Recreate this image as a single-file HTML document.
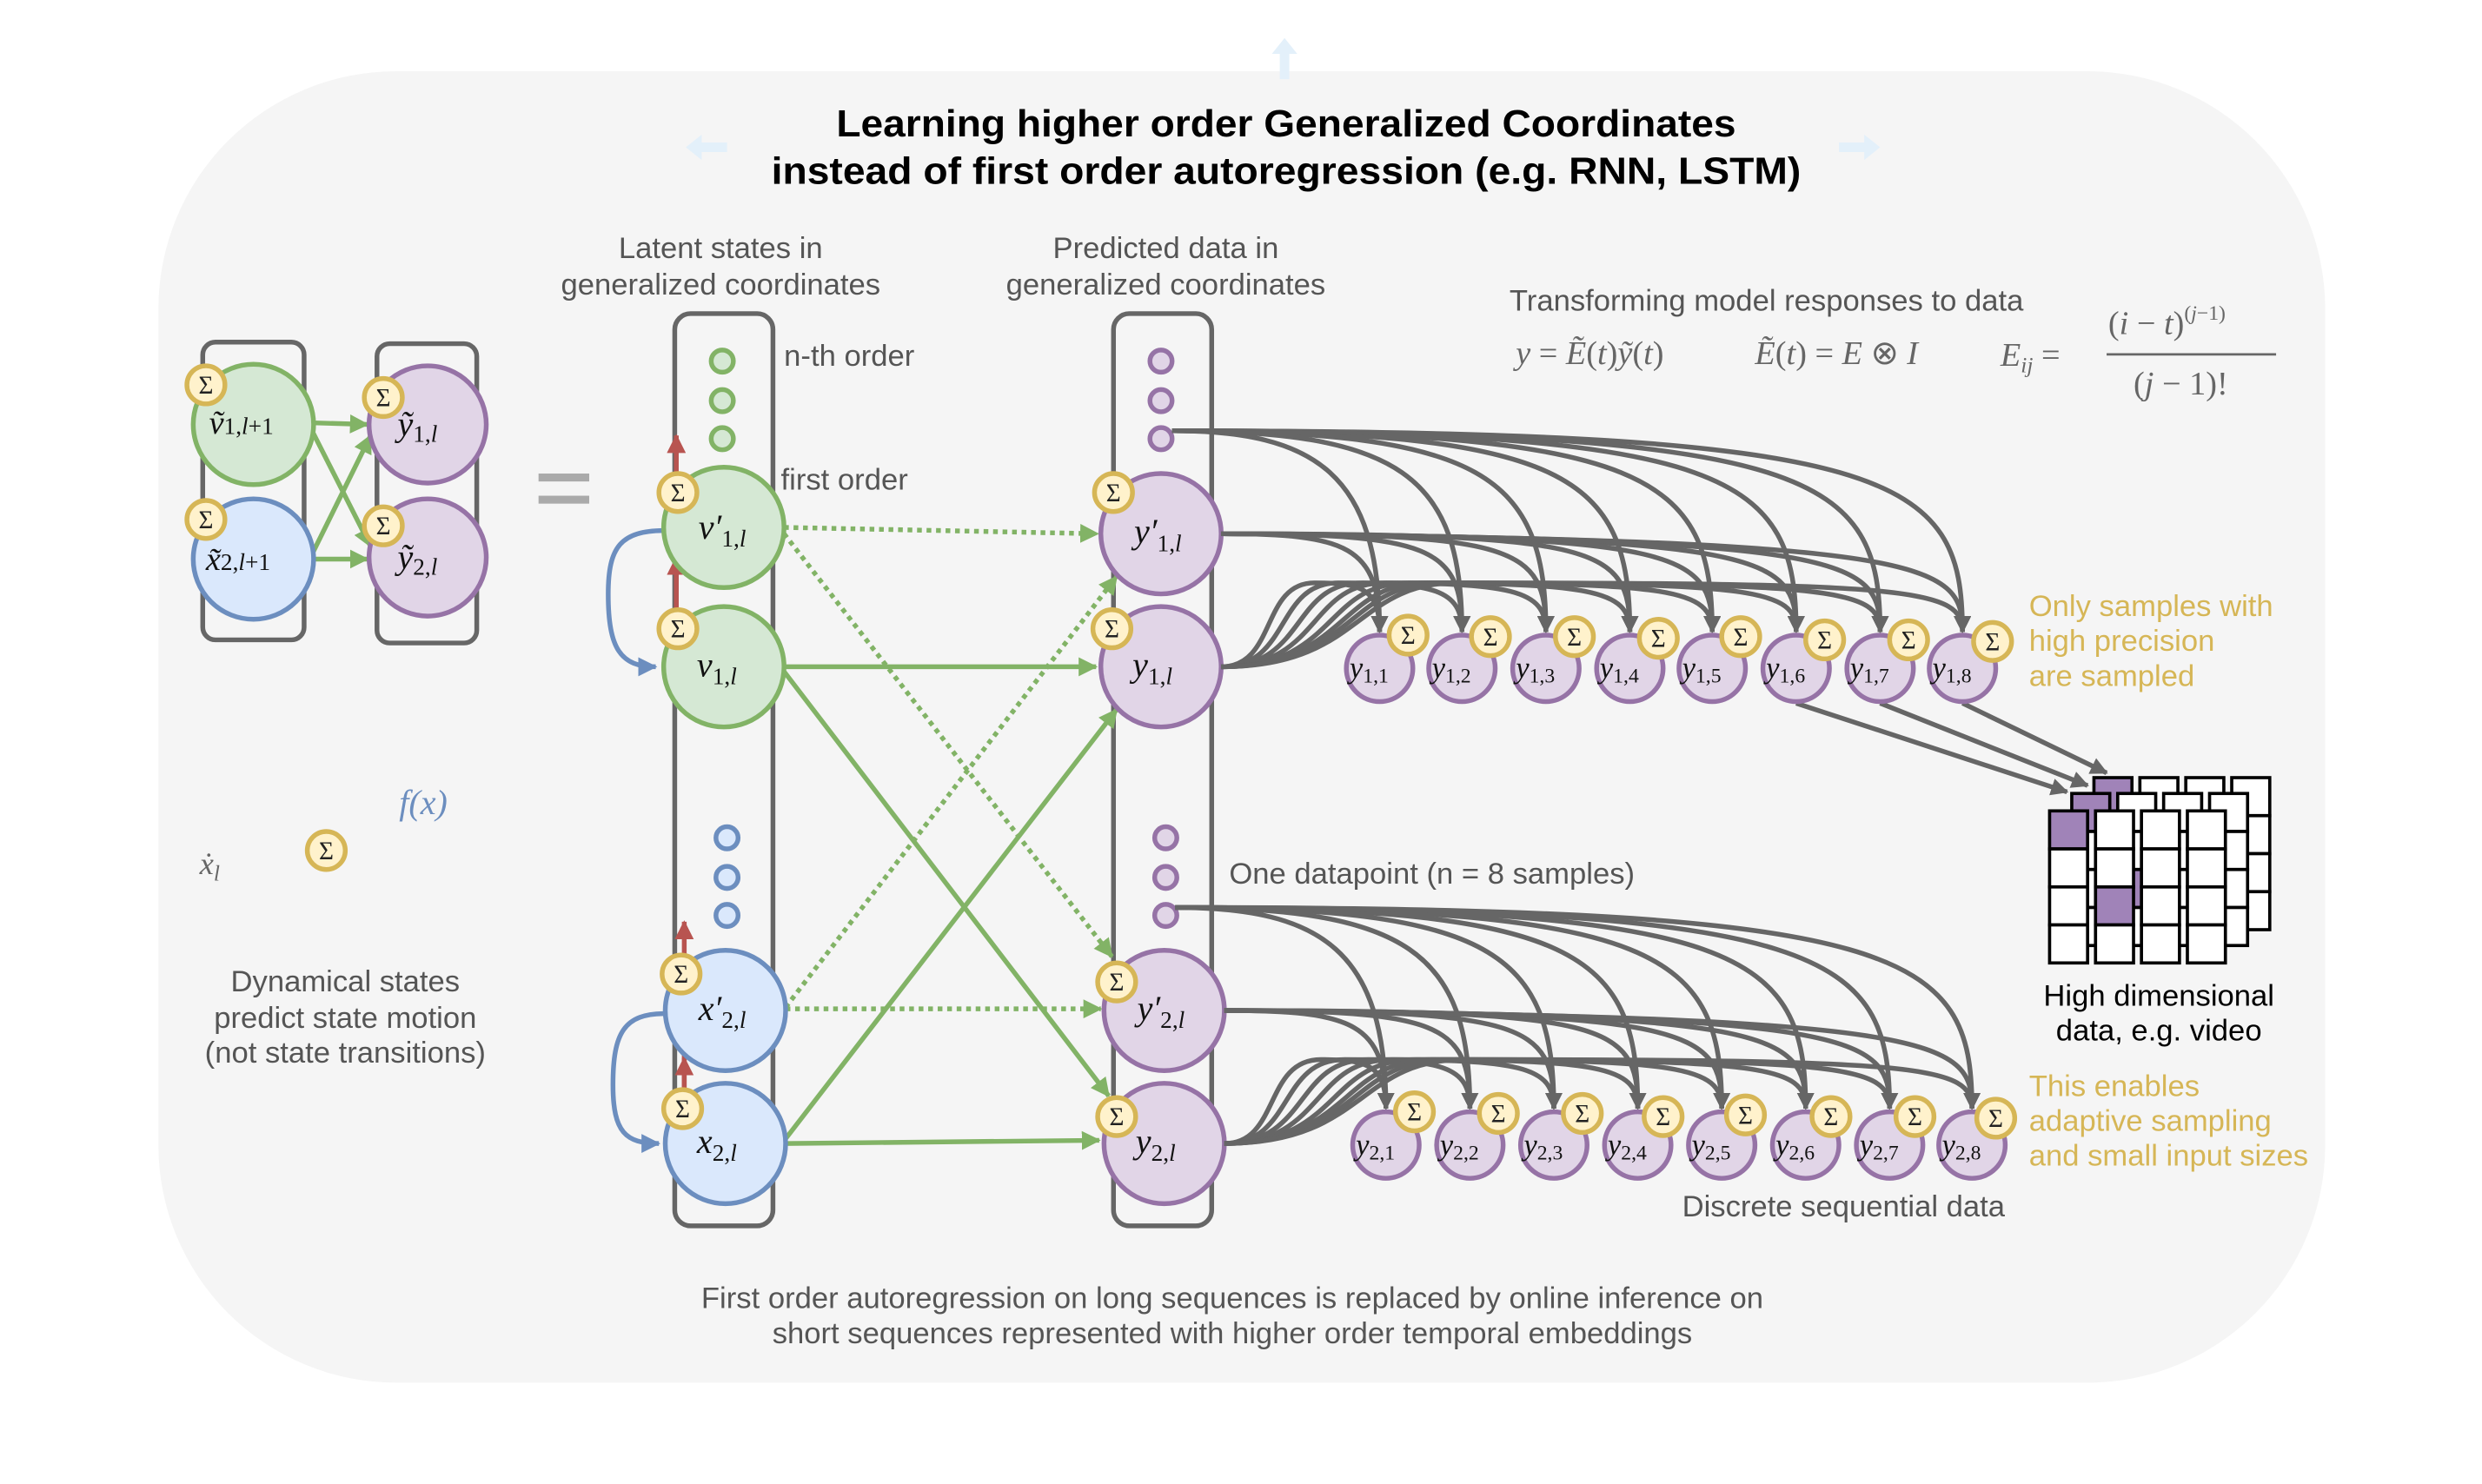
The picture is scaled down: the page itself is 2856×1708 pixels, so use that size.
<!DOCTYPE html>
<html><head><meta charset="utf-8"><style>
html,body{margin:0;padding:0;background:#fff;}
svg{display:block;}
text{font-family:"Liberation Sans",sans-serif;}
.l{font-size:19px;fill:#555;}
.m{font-family:"Liberation Serif",serif;font-style:italic;fill:#111;}
.y{font-size:19px;fill:#d6b656;}
.sg{font-family:"Liberation Serif",serif;font-size:16px;fill:#222;text-anchor:middle;}
.g{fill:none;stroke:#666;stroke-width:3;}
</style></head><body>
<svg width="2856" height="1708" viewBox="0 0 1567 937" preserveAspectRatio="none" xmlns="http://www.w3.org/2000/svg">
<defs>
<marker id="ag" markerWidth="11" markerHeight="11" refX="10" refY="5.5" orient="auto" markerUnits="userSpaceOnUse"><path d="M0,0 L11,5.5 L0,11 z" fill="#666"/></marker>
<marker id="agr" markerWidth="12" markerHeight="12" refX="11" refY="6" orient="auto" markerUnits="userSpaceOnUse"><path d="M0,0 L12,6 L0,12 z" fill="#82b366"/></marker>
<marker id="ab" markerWidth="12" markerHeight="12" refX="11" refY="6" orient="auto" markerUnits="userSpaceOnUse"><path d="M0,0 L12,6 L0,12 z" fill="#6c8ebf"/></marker>
<marker id="ar" markerWidth="12" markerHeight="12" refX="11" refY="6" orient="auto" markerUnits="userSpaceOnUse"><path d="M0,0 L12,6 L0,12 z" fill="#b85450"/></marker>
<g id="sig"><circle r="12" fill="#fff2cc" stroke="#d6b656" stroke-width="3"/><text class="sg" y="5.5">Σ</text></g>
</defs>
<rect x="100" y="45" width="1368" height="828" rx="150" fill="#f5f5f5"/>
<g fill="#e3f0fa"><path d="M808,50 h6 v-16 h5 l-8,-10 l-8,10 h5 z"/><path d="M459,90 v6 h-16 v5 l-10,-8 l10,-8 v5 z"/><path d="M1161,90 v6 h16 v5 l10,-8 l-10,-8 v5 z"/></g>
<text x="812" y="86" text-anchor="middle" font-size="24" font-weight="bold" textLength="568" lengthAdjust="spacingAndGlyphs">Learning higher order Generalized Coordinates</text>
<text x="812" y="116" text-anchor="middle" font-size="24" font-weight="bold" textLength="650" lengthAdjust="spacingAndGlyphs">instead of first order autoregression (e.g. RNN, LSTM)</text>

<rect x="128" y="216" width="64" height="188" rx="8" fill="none" stroke="#666" stroke-width="3"/>
<rect x="238" y="217" width="63" height="189" rx="8" fill="none" stroke="#666" stroke-width="3"/>
<g stroke="#82b366" stroke-width="3" fill="none">
<line x1="198" y1="267" x2="232" y2="268" marker-end="url(#agr)"/>
<line x1="196" y1="270" x2="234" y2="345" marker-end="url(#agr)"/>
<line x1="196" y1="352" x2="234" y2="275" marker-end="url(#agr)"/>
<line x1="198" y1="353" x2="232" y2="353" marker-end="url(#agr)"/>
</g>
<circle cx="160" cy="268" r="38" fill="#d5e8d4" stroke="#82b366" stroke-width="3"/>
<circle cx="160" cy="353" r="38" fill="#dae8fc" stroke="#6c8ebf" stroke-width="3"/>
<circle cx="270" cy="268" r="37" fill="#e1d5e7" stroke="#9673a6" stroke-width="3"/>
<circle cx="270" cy="352" r="37" fill="#e1d5e7" stroke="#9673a6" stroke-width="3"/>
<text class="m" x="132" y="274" font-size="21">ṽ<tspan font-size="15" font-style="normal">1,</tspan><tspan font-size="15">l</tspan><tspan font-size="15" font-style="normal">+1</tspan></text>
<text class="m" x="130" y="360" font-size="21">x̃<tspan font-size="15" font-style="normal">2,</tspan><tspan font-size="15">l</tspan><tspan font-size="15" font-style="normal">+1</tspan></text>
<text class="m" x="251" y="275" font-size="22">ỹ<tspan font-size="15" font-style="normal" dy="4">1,</tspan><tspan font-size="15">l</tspan></text>
<text class="m" x="251" y="359" font-size="22">ỹ<tspan font-size="15" font-style="normal" dy="4">2,</tspan><tspan font-size="15">l</tspan></text>
<use href="#sig" x="130" y="243"/><use href="#sig" x="130" y="328"/><use href="#sig" x="242" y="251"/><use href="#sig" x="242" y="332"/>
<rect x="340" y="299" width="32" height="5" fill="#aaa"/><rect x="340" y="313" width="32" height="5" fill="#aaa"/>
<text class="m" x="252" y="514" font-size="22" style="fill:#6c8ebf">f(x)</text>
<text class="m" x="126" y="552" font-size="20" style="fill:#666">ẋ<tspan font-size="14" dy="4">l</tspan></text>
<use href="#sig" x="206" y="537"/>
<text class="l" x="218" y="626" text-anchor="middle">Dynamical states</text>
<text class="l" x="218" y="649" text-anchor="middle">predict state motion</text>
<text class="l" x="218" y="671" text-anchor="middle">(not state transitions)</text>

<text class="l" x="455" y="163" text-anchor="middle">Latent states in</text>
<text class="l" x="455" y="186" text-anchor="middle">generalized coordinates</text>
<text class="l" x="736" y="163" text-anchor="middle">Predicted data in</text>
<text class="l" x="736" y="186" text-anchor="middle">generalized coordinates</text>

<rect x="426" y="198" width="62" height="576" rx="10" fill="none" stroke="#666" stroke-width="3"/>
<rect x="703" y="198" width="62" height="576" rx="10" fill="none" stroke="#666" stroke-width="3"/>
<text class="l" x="495" y="231">n-th order</text>
<text class="l" x="493" y="309">first order</text>
<g stroke-width="3">
<circle cx="456" cy="228" r="7" fill="#d5e8d4" stroke="#82b366"/><circle cx="456" cy="253" r="7" fill="#d5e8d4" stroke="#82b366"/><circle cx="456" cy="277" r="7" fill="#d5e8d4" stroke="#82b366"/>
<circle cx="459" cy="529" r="7" fill="#dae8fc" stroke="#6c8ebf"/><circle cx="459" cy="554" r="7" fill="#dae8fc" stroke="#6c8ebf"/><circle cx="459" cy="578" r="7" fill="#dae8fc" stroke="#6c8ebf"/>
<circle cx="733" cy="228" r="7" fill="#e1d5e7" stroke="#9673a6"/><circle cx="733" cy="253" r="7" fill="#e1d5e7" stroke="#9673a6"/><circle cx="733" cy="277" r="7" fill="#e1d5e7" stroke="#9673a6"/>
<circle cx="736" cy="529" r="7" fill="#e1d5e7" stroke="#9673a6"/><circle cx="736" cy="554" r="7" fill="#e1d5e7" stroke="#9673a6"/><circle cx="736" cy="578" r="7" fill="#e1d5e7" stroke="#9673a6"/>
</g>
<g stroke="#b85450" stroke-width="3" fill="none">
<line x1="427" y1="390" x2="427" y2="275" marker-end="url(#ar)"/>
<line x1="427" y1="390" x2="427" y2="352" marker-end="url(#ar)"/>
<line x1="432" y1="692" x2="432" y2="582" marker-end="url(#ar)"/>
<line x1="432" y1="692" x2="432" y2="668" marker-end="url(#ar)"/>
</g>
<g stroke="#6c8ebf" stroke-width="3" fill="none">
<path d="M420,335 C392,335 384,345 384,375 C384,410 392,421 414,421" marker-end="url(#ab)"/>
<path d="M420,640 C394,640 387,652 387,685 C387,715 395,722 416,722" marker-end="url(#ab)"/>
</g>
<g stroke="#82b366" stroke-width="3" fill="none">
<line x1="495" y1="333" x2="693" y2="337" stroke-dasharray="3 3" marker-end="url(#agr)"/>
<line x1="495" y1="421" x2="692" y2="421" marker-end="url(#agr)"/>
<line x1="495" y1="337" x2="702" y2="604" stroke-dasharray="3 3" marker-end="url(#agr)"/>
<line x1="495" y1="424" x2="700" y2="692" marker-end="url(#agr)"/>
<line x1="496" y1="636" x2="705" y2="364" stroke-dasharray="3 3" marker-end="url(#agr)"/>
<line x1="496" y1="719" x2="705" y2="448" marker-end="url(#agr)"/>
<line x1="496" y1="637" x2="695" y2="637" stroke-dasharray="3 3" marker-end="url(#agr)"/>
<line x1="496" y1="722" x2="694" y2="720" marker-end="url(#agr)"/>
</g>
<g stroke-width="3">
<circle cx="457" cy="333" r="38" fill="#d5e8d4" stroke="#82b366"/>
<circle cx="457" cy="421" r="38" fill="#d5e8d4" stroke="#82b366"/>
<circle cx="458" cy="638" r="38" fill="#dae8fc" stroke="#6c8ebf"/>
<circle cx="458" cy="722" r="38" fill="#dae8fc" stroke="#6c8ebf"/>
<circle cx="733" cy="337" r="38" fill="#e1d5e7" stroke="#9673a6"/>
<circle cx="733" cy="421" r="38" fill="#e1d5e7" stroke="#9673a6"/>
<circle cx="735" cy="638" r="38" fill="#e1d5e7" stroke="#9673a6"/>
<circle cx="735" cy="722" r="38" fill="#e1d5e7" stroke="#9673a6"/>
</g>
<g>
<text class="m" font-size="22" x="441" y="340">v′<tspan font-size="15" font-style="normal" dy="5">1,</tspan><tspan font-size="15">l</tspan></text>
<text class="m" font-size="22" x="440" y="427">v<tspan font-size="15" font-style="normal" dy="5">1,</tspan><tspan font-size="15">l</tspan></text>
<text class="m" font-size="22" x="441" y="644">x′<tspan font-size="15" font-style="normal" dy="5">2,</tspan><tspan font-size="15">l</tspan></text>
<text class="m" font-size="22" x="440" y="728">x<tspan font-size="15" font-style="normal" dy="5">2,</tspan><tspan font-size="15">l</tspan></text>
<text class="m" font-size="22" x="716" y="343">y′<tspan font-size="15" font-style="normal" dy="5">1,</tspan><tspan font-size="15">l</tspan></text>
<text class="m" font-size="22" x="715" y="427">y<tspan font-size="15" font-style="normal" dy="5">1,</tspan><tspan font-size="15">l</tspan></text>
<text class="m" font-size="22" x="718" y="644">y′<tspan font-size="15" font-style="normal" dy="5">2,</tspan><tspan font-size="15">l</tspan></text>
<text class="m" font-size="22" x="717" y="728">y<tspan font-size="15" font-style="normal" dy="5">2,</tspan><tspan font-size="15">l</tspan></text>
</g>
<use href="#sig" x="428" y="311"/><use href="#sig" x="428" y="397"/><use href="#sig" x="430" y="615"/><use href="#sig" x="431" y="700"/>
<use href="#sig" x="703" y="311"/><use href="#sig" x="702" y="397"/><use href="#sig" x="705" y="620"/><use href="#sig" x="705" y="705"/>

<g class="g">
<path d="M740,272 C831,272 871,300 871,399" marker-end="url(#ag)"/>
<path d="M740,272 C883,272 923,300 923,399" marker-end="url(#ag)"/>
<path d="M740,272 C936,272 976,300 976,399" marker-end="url(#ag)"/>
<path d="M740,272 C989,272 1029,300 1029,399" marker-end="url(#ag)"/>
<path d="M740,272 C1041,272 1081,300 1081,399" marker-end="url(#ag)"/>
<path d="M740,272 C1094,272 1134,300 1134,399" marker-end="url(#ag)"/>
<path d="M740,272 C1147,272 1187,300 1187,399" marker-end="url(#ag)"/>
<path d="M740,272 C1199,272 1239,300 1239,399" marker-end="url(#ag)"/>
<path d="M771,337 C851,337 871,345 871,399" marker-end="url(#ag)"/>
<path d="M771,337 C903,337 923,345 923,399" marker-end="url(#ag)"/>
<path d="M771,337 C956,337 976,345 976,399" marker-end="url(#ag)"/>
<path d="M771,337 C1009,337 1029,345 1029,399" marker-end="url(#ag)"/>
<path d="M771,337 C1061,338 1081,348 1081,399" marker-end="url(#ag)"/>
<path d="M771,337 C1114,339 1134,350 1134,399" marker-end="url(#ag)"/>
<path d="M771,337 C1167,340 1187,352 1187,399" marker-end="url(#ag)"/>
<path d="M771,337 C1219,341 1239,355 1239,399" marker-end="url(#ag)"/>
<path d="M771,421 C806,421 796,368 830,368 C860,368 871,372 871,399" marker-end="url(#ag)"/>
<path d="M771,421 C815,421 805,368 845,368 C905,368 923,372 923,399" marker-end="url(#ag)"/>
<path d="M771,421 C825,421 815,368 860,368 C955,368 976,372 976,399" marker-end="url(#ag)"/>
<path d="M771,421 C835,421 825,368 875,368 C1005,368 1029,372 1029,399" marker-end="url(#ag)"/>
<path d="M771,421 C845,421 835,368 890,368 C1055,368 1081,372 1081,399" marker-end="url(#ag)"/>
<path d="M771,421 C850,421 845,368 900,368 C1110,368 1134,372 1134,399" marker-end="url(#ag)"/>
<path d="M771,421 C855,421 850,368 910,368 C1160,368 1187,372 1187,399" marker-end="url(#ag)"/>
<path d="M771,421 C860,421 855,368 920,368 C1210,368 1239,372 1239,399" marker-end="url(#ag)"/>
<path d="M742,573 C835,573 875,601 875,700" marker-end="url(#ag)"/>
<path d="M742,573 C888,573 928,601 928,700" marker-end="url(#ag)"/>
<path d="M742,573 C941,573 981,601 981,700" marker-end="url(#ag)"/>
<path d="M742,573 C994,573 1034,601 1034,700" marker-end="url(#ag)"/>
<path d="M742,573 C1047,573 1087,601 1087,700" marker-end="url(#ag)"/>
<path d="M742,573 C1100,573 1140,601 1140,700" marker-end="url(#ag)"/>
<path d="M742,573 C1153,573 1193,601 1193,700" marker-end="url(#ag)"/>
<path d="M742,573 C1205,573 1245,601 1245,700" marker-end="url(#ag)"/>
<path d="M773,638 C855,638 875,646 875,700" marker-end="url(#ag)"/>
<path d="M773,638 C908,638 928,646 928,700" marker-end="url(#ag)"/>
<path d="M773,638 C961,638 981,646 981,700" marker-end="url(#ag)"/>
<path d="M773,638 C1014,638 1034,646 1034,700" marker-end="url(#ag)"/>
<path d="M773,638 C1067,639 1087,649 1087,700" marker-end="url(#ag)"/>
<path d="M773,638 C1120,640 1140,651 1140,700" marker-end="url(#ag)"/>
<path d="M773,638 C1173,641 1193,653 1193,700" marker-end="url(#ag)"/>
<path d="M773,638 C1225,642 1245,656 1245,700" marker-end="url(#ag)"/>
<path d="M773,722 C808,722 798,669 834,669 C864,669 875,673 875,700" marker-end="url(#ag)"/>
<path d="M773,722 C817,722 807,669 849,669 C910,669 928,673 928,700" marker-end="url(#ag)"/>
<path d="M773,722 C827,722 817,669 864,669 C960,669 981,673 981,700" marker-end="url(#ag)"/>
<path d="M773,722 C837,722 827,669 879,669 C1010,669 1034,673 1034,700" marker-end="url(#ag)"/>
<path d="M773,722 C847,722 837,669 894,669 C1060,669 1087,673 1087,700" marker-end="url(#ag)"/>
<path d="M773,722 C852,722 847,669 904,669 C1115,669 1140,673 1140,700" marker-end="url(#ag)"/>
<path d="M773,722 C857,722 852,669 914,669 C1165,669 1193,673 1193,700" marker-end="url(#ag)"/>
<path d="M773,722 C862,722 857,669 924,669 C1215,669 1245,673 1245,700" marker-end="url(#ag)"/>
<line x1="1134" y1="444" x2="1305" y2="500" marker-end="url(#ag)"/>
<line x1="1187" y1="444" x2="1318" y2="496" marker-end="url(#ag)"/>
<line x1="1239" y1="444" x2="1330" y2="488" marker-end="url(#ag)"/>
</g>
<g fill="#e1d5e7" stroke="#9673a6" stroke-width="3">
<circle cx="871" cy="422" r="21"/><circle cx="923" cy="422" r="21"/><circle cx="976" cy="422" r="21"/><circle cx="1029" cy="422" r="21"/><circle cx="1081" cy="422" r="21"/><circle cx="1134" cy="422" r="21"/><circle cx="1187" cy="422" r="21"/><circle cx="1239" cy="422" r="21"/>
<circle cx="875" cy="723" r="21"/><circle cx="928" cy="723" r="21"/><circle cx="981" cy="723" r="21"/><circle cx="1034" cy="723" r="21"/><circle cx="1087" cy="723" r="21"/><circle cx="1140" cy="723" r="21"/><circle cx="1193" cy="723" r="21"/><circle cx="1245" cy="723" r="21"/>
</g>
<g>
<text class="m" font-size="19" x="852" y="428">y<tspan font-size="13" font-style="normal" dy="3">1,1</tspan></text>
<text class="m" font-size="19" x="904" y="428">y<tspan font-size="13" font-style="normal" dy="3">1,2</tspan></text>
<text class="m" font-size="19" x="957" y="428">y<tspan font-size="13" font-style="normal" dy="3">1,3</tspan></text>
<text class="m" font-size="19" x="1010" y="428">y<tspan font-size="13" font-style="normal" dy="3">1,4</tspan></text>
<text class="m" font-size="19" x="1062" y="428">y<tspan font-size="13" font-style="normal" dy="3">1,5</tspan></text>
<text class="m" font-size="19" x="1115" y="428">y<tspan font-size="13" font-style="normal" dy="3">1,6</tspan></text>
<text class="m" font-size="19" x="1168" y="428">y<tspan font-size="13" font-style="normal" dy="3">1,7</tspan></text>
<text class="m" font-size="19" x="1220" y="428">y<tspan font-size="13" font-style="normal" dy="3">1,8</tspan></text>
<text class="m" font-size="19" x="856" y="729">y<tspan font-size="13" font-style="normal" dy="3">2,1</tspan></text>
<text class="m" font-size="19" x="909" y="729">y<tspan font-size="13" font-style="normal" dy="3">2,2</tspan></text>
<text class="m" font-size="19" x="962" y="729">y<tspan font-size="13" font-style="normal" dy="3">2,3</tspan></text>
<text class="m" font-size="19" x="1015" y="729">y<tspan font-size="13" font-style="normal" dy="3">2,4</tspan></text>
<text class="m" font-size="19" x="1068" y="729">y<tspan font-size="13" font-style="normal" dy="3">2,5</tspan></text>
<text class="m" font-size="19" x="1121" y="729">y<tspan font-size="13" font-style="normal" dy="3">2,6</tspan></text>
<text class="m" font-size="19" x="1174" y="729">y<tspan font-size="13" font-style="normal" dy="3">2,7</tspan></text>
<text class="m" font-size="19" x="1226" y="729">y<tspan font-size="13" font-style="normal" dy="3">2,8</tspan></text>
</g>
<use href="#sig" x="889" y="401"/><use href="#sig" x="941" y="402"/><use href="#sig" x="994" y="402"/><use href="#sig" x="1047" y="403"/><use href="#sig" x="1099" y="402"/><use href="#sig" x="1152" y="404"/><use href="#sig" x="1205" y="404"/><use href="#sig" x="1258" y="405"/>
<use href="#sig" x="893" y="702"/><use href="#sig" x="946" y="703"/><use href="#sig" x="999" y="703"/><use href="#sig" x="1050" y="705"/><use href="#sig" x="1102" y="704"/><use href="#sig" x="1156" y="705"/><use href="#sig" x="1209" y="705"/><use href="#sig" x="1260" y="706"/>

<g stroke="#000" stroke-width="2" fill="#fff">
<g transform="translate(1322,491)">
<rect x="0" y="0" width="24" height="24" fill="#a083b8"/><rect x="29" y="0" width="24" height="24"/><rect x="58" y="0" width="24" height="24"/><rect x="87" y="0" width="24" height="24"/>
<rect x="0" y="24" width="24" height="24"/><rect x="29" y="24" width="24" height="24"/><rect x="58" y="24" width="24" height="24"/><rect x="87" y="24" width="24" height="24"/>
<rect x="0" y="48" width="24" height="24"/><rect x="29" y="48" width="24" height="24"/><rect x="58" y="48" width="24" height="24"/><rect x="87" y="48" width="24" height="24"/>
<rect x="0" y="72" width="24" height="24"/><rect x="29" y="72" width="24" height="24"/><rect x="58" y="72" width="24" height="24"/><rect x="87" y="72" width="24" height="24"/>
</g>
<g transform="translate(1308,501)">
<rect x="0" y="0" width="24" height="24" fill="#a083b8"/><rect x="29" y="0" width="24" height="24"/><rect x="58" y="0" width="24" height="24"/><rect x="87" y="0" width="24" height="24"/>
<rect x="0" y="24" width="24" height="24"/><rect x="29" y="24" width="24" height="24"/><rect x="58" y="24" width="24" height="24"/><rect x="87" y="24" width="24" height="24"/>
<rect x="0" y="48" width="24" height="24"/><rect x="29" y="48" width="24" height="24" fill="#a083b8"/><rect x="58" y="48" width="24" height="24"/><rect x="87" y="48" width="24" height="24"/>
<rect x="0" y="72" width="24" height="24"/><rect x="29" y="72" width="24" height="24"/><rect x="58" y="72" width="24" height="24"/><rect x="87" y="72" width="24" height="24"/>
</g>
<g transform="translate(1294,512)">
<rect x="0" y="0" width="24" height="24" fill="#a083b8"/><rect x="29" y="0" width="24" height="24"/><rect x="58" y="0" width="24" height="24"/><rect x="87" y="0" width="24" height="24"/>
<rect x="0" y="24" width="24" height="24"/><rect x="29" y="24" width="24" height="24"/><rect x="58" y="24" width="24" height="24"/><rect x="87" y="24" width="24" height="24"/>
<rect x="0" y="48" width="24" height="24"/><rect x="29" y="48" width="24" height="24" fill="#a083b8"/><rect x="58" y="48" width="24" height="24"/><rect x="87" y="48" width="24" height="24"/>
<rect x="0" y="72" width="24" height="24"/><rect x="29" y="72" width="24" height="24"/><rect x="58" y="72" width="24" height="24"/><rect x="87" y="72" width="24" height="24"/>
</g>
</g>
<text x="1363" y="635" text-anchor="middle" font-size="19" fill="#000">High dimensional</text>
<text x="1363" y="657" text-anchor="middle" font-size="19" fill="#000">data, e.g. video</text>
<text class="y" x="1281" y="389">Only samples with</text>
<text class="y" x="1281" y="411">high precision</text>
<text class="y" x="1281" y="433">are sampled</text>
<text class="y" x="1281" y="692">This enables</text>
<text class="y" x="1281" y="714">adaptive sampling</text>
<text class="y" x="1281" y="736">and small input sizes</text>
<text class="l" x="776" y="558">One datapoint (n = 8 samples)</text>
<text class="l" x="1062" y="768">Discrete sequential data</text>
<text class="l" x="953" y="196">Transforming model responses to data</text>
<g font-size="21" fill="#666">
<text x="957" y="230" style="font-family:'Liberation Serif',serif"><tspan font-style="italic">y</tspan> = <tspan font-style="italic">Ẽ</tspan>(<tspan font-style="italic">t</tspan>)<tspan font-style="italic">ỹ</tspan>(<tspan font-style="italic">t</tspan>)</text>
<text x="1108" y="230" style="font-family:'Liberation Serif',serif"><tspan font-style="italic">Ẽ</tspan>(<tspan font-style="italic">t</tspan>) = <tspan font-style="italic">E</tspan> ⊗ <tspan font-style="italic">I</tspan></text>
<text x="1263" y="231" style="font-family:'Liberation Serif',serif"><tspan font-style="italic">E</tspan><tspan font-size="14" font-style="italic" dy="4">ij</tspan><tspan dy="-4"> =</tspan></text>
<text x="1331" y="211" style="font-family:'Liberation Serif',serif">(<tspan font-style="italic">i</tspan> − <tspan font-style="italic">t</tspan>)<tspan font-size="13" dy="-9">(<tspan font-style="italic">j</tspan>−1)</tspan></text>
<rect x="1330" y="223" width="107" height="1.5" fill="#666"/>
<text x="1347" y="249" style="font-family:'Liberation Serif',serif">(<tspan font-style="italic">j</tspan> − 1)!</text>
</g>
<text class="l" x="778" y="826" text-anchor="middle">First order autoregression on long sequences is replaced by online inference on</text>
<text class="l" x="778" y="848" text-anchor="middle">short sequences represented with higher order temporal embeddings</text>
</svg>
</body></html>
